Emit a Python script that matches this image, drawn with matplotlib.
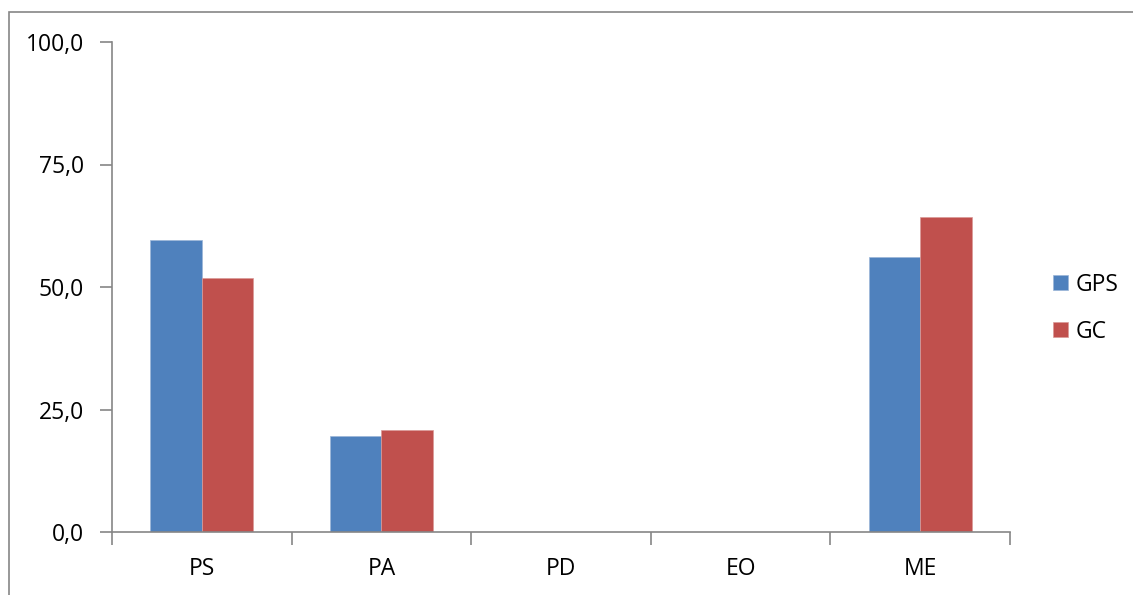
import numpy as np
from matplotlib import pyplot as plt
from matplotlib.patches import Rectangle

categories = ['PS', 'PA', 'PD', 'EO', 'ME']
gps_values = [59.6, 19.6, 0.0, 0.0, 56.2]
gc_values = [51.9, 20.9, 0.0, 0.0, 64.2]
y_ticks = [0, 25, 50, 75, 100]
y_labels = ['0,0', '25,0', '50,0', '75,0', '100,0']

blue = '#4F81BD'
red = '#C0504D'
axis_gray = '#868686'

plt.rcParams['font.family'] = ['Open Sans', 'DejaVu Sans']

fig = plt.figure(figsize=(11.33, 5.95), dpi=100)
fig.patches.append(Rectangle((9 / 1133, -0.1), 1.2, (595 - 12) / 595 + 0.1,
                             transform=fig.transFigure, fill=False,
                             edgecolor=axis_gray, linewidth=1.2))

ax = fig.add_axes([112 / 1133, 63 / 595, 898 / 1133, 490 / 595])

x = np.arange(len(categories)) + 0.5
w = 0.287
ax.bar(x - w / 2, gps_values, w, color=blue, label='GPS', edgecolor='#9BB5D8', linewidth=0.5)
ax.bar(x + w / 2, gc_values, w, color=red, label='GC', edgecolor='#DA9A98', linewidth=0.5)

ax.set_xlim(0, len(categories))
ax.set_ylim(0, 100)
ax.set_yticks(y_ticks)
ax.set_yticklabels(y_labels)
ax.set_xticks(np.arange(len(categories) + 1))
ax.set_xticklabels([])
ax.set_xticks(x, minor=True)
ax.set_xticklabels(categories, minor=True)
ax.tick_params(axis='x', which='minor', length=0, pad=18, labelsize=16.5)
ax.tick_params(axis='x', which='major', length=9, width=1.2, color=axis_gray, direction='out')
ax.tick_params(axis='y', length=9, width=1.2, color=axis_gray, labelsize=16.5, pad=11)

for side in ['top', 'right']:
    ax.spines[side].set_visible(False)
for side in ['left', 'bottom']:
    ax.spines[side].set_color(axis_gray)
    ax.spines[side].set_linewidth(1.2)

ax.legend(loc='center left', bbox_to_anchor=(1.025, 0.457), frameon=False,
          fontsize=16.5, handlelength=0.65, handleheight=0.65, handletextpad=0.35,
          labelspacing=1.0)

fig.savefig('out.png', dpi=100)
